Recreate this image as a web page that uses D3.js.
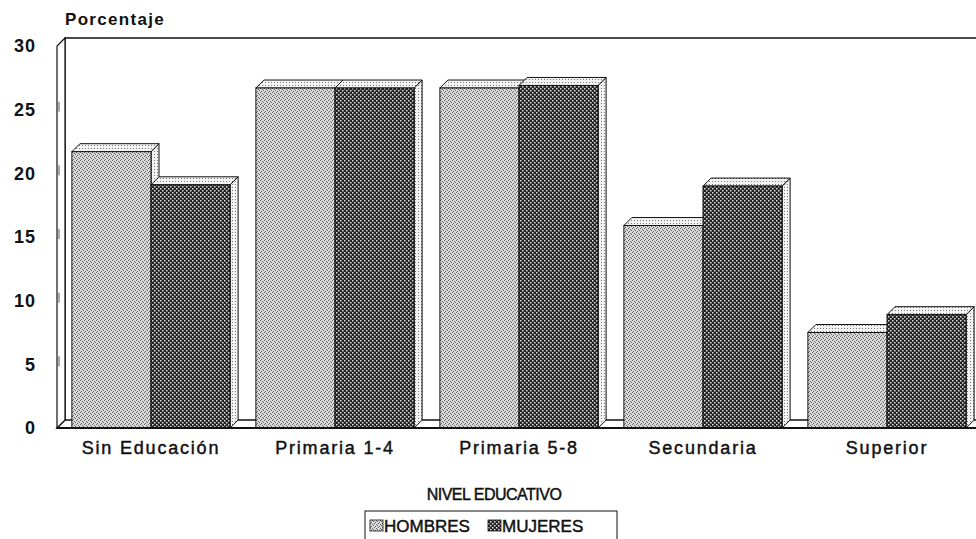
<!DOCTYPE html>
<meta charset="utf-8">
<style>
body { margin: 0; background: #fff; }
svg { display: block; background: #fff; }
text { font-family: "Liberation Sans", Arial, sans-serif; fill: #111; }
.thick { stroke: #111; stroke-width: 0.45px; }
</style>
<body>
<div id="main"></div>
<script src="https://d3js.org/d3.v7.min.js"></script>
<script>

// data
var categories = ["Sin Educación", "Primaria 1-4", "Primaria 5-8", "Secundaria", "Superior"];
var series = ["HOMBRES", "MUJERES"];
var hombres = [21.7, 26.7, 26.7, 15.9, 7.5];
var mujeres = [19.1, 26.7, 26.9, 19.0, 8.9];
var yTicks = [0, 5, 10, 15, 20, 25, 30];

var width = 976, height = 539;
var depth = 8; // 3d offset, px right and up

var svg = d3.select("#main").append("svg")
    .attr("width", width)
    .attr("height", height);

// fill patterns (stipple for men, checker for women)
var defs = svg.append("defs");

var pH = defs.append("pattern").attr("id", "pH")
    .attr("patternUnits", "userSpaceOnUse").attr("width", 4).attr("height", 4);
pH.append("rect").attr("width", 4).attr("height", 4).attr("fill", "#dadada");
[[0, 0], [2, 1], [1, 3], [3, 2]].forEach(function(p) {
  pH.append("rect").attr("x", p[0]).attr("y", p[1]).attr("width", 1).attr("height", 1).attr("fill", "#666");
});

var pM = defs.append("pattern").attr("id", "pM")
    .attr("patternUnits", "userSpaceOnUse").attr("width", 4).attr("height", 4);
pM.append("rect").attr("width", 4).attr("height", 4).attr("fill", "#222");
pM.append("rect").attr("x", 0).attr("y", 0).attr("width", 1.5).attr("height", 1.5).attr("fill", "#e0e0e0");
pM.append("rect").attr("x", 2).attr("y", 2).attr("width", 1.5).attr("height", 1.5).attr("fill", "#e0e0e0");

var pLight = defs.append("pattern").attr("id", "pLight")
    .attr("patternUnits", "userSpaceOnUse").attr("width", 3).attr("height", 3);
pLight.append("rect").attr("width", 3).attr("height", 3).attr("fill", "#f2f2f2");
pLight.append("rect").attr("x", 1).attr("y", 1).attr("width", 1).attr("height", 1).attr("fill", "#777");

// scales
var y = d3.scaleLinear().domain([0, 30]).range([428, 46]);
var x0 = d3.scaleBand().domain(categories).range([59, 979])
    .paddingInner(0.14).paddingOuter(0.07);
var x1 = d3.scaleBand().domain(series).range([0, x0.bandwidth()]);

var left = 57, right = 979;

// back wall
svg.append("path")
    .attr("d", "M" + (left + depth) + "," + (y(0) - depth) + "V" + (y(30) - depth) + "H" + (right + depth))
    .attr("fill", "none").attr("stroke", "#111").attr("stroke-width", 1.5);

// floor
svg.append("path")
    .attr("d", "M" + left + "," + y(0) + "L" + (left + depth) + "," + (y(0) - depth) +
               "H" + (right + depth) + "L" + right + "," + y(0) + "Z")
    .attr("fill", "#fff").attr("stroke", "#111").attr("stroke-width", 1.5);

// left side wall
svg.append("path")
    .attr("d", "M" + left + "," + y(0) + "V" + y(30) + "L" + (left + depth) + "," + (y(30) - depth) +
               "V" + (y(0) - depth) + "Z")
    .attr("fill", "#fff").attr("stroke", "#111").attr("stroke-width", 1.2);

// small ticks on the side wall
svg.append("g").selectAll("line")
    .data(yTicks.slice(1, -1))
    .enter().append("line")
      .attr("x1", left + 2).attr("x2", left + 2)
      .attr("y1", function(d) { return y(d) - 8; })
      .attr("y2", function(d) { return y(d) + 2; })
      .attr("stroke", "#555").attr("stroke-width", 1);

// bars
var rows = [];
categories.forEach(function(c, i) {
  rows.push({cat: c, s: "HOMBRES", v: hombres[i], fill: "url(#pH)"});
  rows.push({cat: c, s: "MUJERES", v: mujeres[i], fill: "url(#pM)"});
});

var bar = svg.append("g").selectAll("g")
    .data(rows)
    .enter().append("g");

bar.each(function(d) {
  var g = d3.select(this);
  var bx = x0(d.cat) + x1(d.s), bw = x1.bandwidth();
  var top = y(d.v), base = y(0);
  // right side
  g.append("path")
    .attr("d", "M" + (bx + bw) + "," + base + "V" + top + "l" + depth + "," + (-depth) +
               "V" + (base - depth) + "Z")
    .attr("fill", "url(#pLight)").attr("stroke", "#111").attr("stroke-width", 1);
  // top
  g.append("path")
    .attr("d", "M" + bx + "," + top + "l" + depth + "," + (-depth) + "h" + bw +
               "l" + (-depth) + "," + depth + "Z")
    .attr("fill", "url(#pLight)").attr("stroke", "#111").attr("stroke-width", 1);
  // front
  g.append("rect")
    .attr("x", bx).attr("y", top)
    .attr("width", bw).attr("height", base - top)
    .attr("fill", d.fill).attr("stroke", "#111").attr("stroke-width", 1);
});

// front floor line
svg.append("line")
    .attr("x1", left).attr("x2", right)
    .attr("y1", y(0)).attr("y2", y(0))
    .attr("stroke", "#111").attr("stroke-width", 2);

// y axis
var yAxis = svg.append("g")
    .attr("transform", "translate(36,0)")
    .call(d3.axisLeft(y).tickValues(yTicks).tickSize(0).tickPadding(0));
yAxis.select(".domain").remove();
yAxis.selectAll("text")
    .style("font-size", "18px").style("font-weight", "bold").attr("letter-spacing", 1);

// x axis
var xAxis = svg.append("g")
    .attr("transform", "translate(0," + y(0) + ")")
    .call(d3.axisBottom(x0).tickSize(0).tickPadding(13));
xAxis.select(".domain").remove();
xAxis.selectAll("text")
    .attr("class", "thick")
    .style("font-size", "18px").style("font-weight", "normal").attr("letter-spacing", 1.8);

svg.append("text")
    .attr("x", 65).attr("y", 25)
    .attr("font-size", 17).attr("font-weight", "bold").attr("letter-spacing", 1.3)
    .text("Porcentaje");

svg.append("text")
    .attr("class", "thick")
    .attr("x", 494).attr("y", 500)
    .attr("text-anchor", "middle")
    .attr("font-size", 16).attr("letter-spacing", -0.5)
    .text("NIVEL EDUCATIVO");

// legend
var legend = svg.append("g").attr("transform", "translate(365,511)");
legend.append("rect")
    .attr("width", 252).attr("height", 40)
    .attr("fill", "#fff").attr("stroke", "#111").attr("stroke-width", 1);

var item = legend.selectAll(".item")
    .data(series)
    .enter().append("g")
      .attr("transform", function(d, i) { return "translate(" + (5 + i * 118) + ",0)"; });
item.append("rect")
    .attr("y", 9).attr("width", 13).attr("height", 11)
    .attr("fill", function(d) { return d === "HOMBRES" ? "url(#pH)" : "url(#pM)"; })
    .attr("stroke", "#111").attr("stroke-width", 0.8);
item.append("text")
    .attr("class", "thick")
    .attr("x", 14).attr("y", 21)
    .attr("font-size", 17)
    .text(function(d) { return d; });

</script>
</body>
